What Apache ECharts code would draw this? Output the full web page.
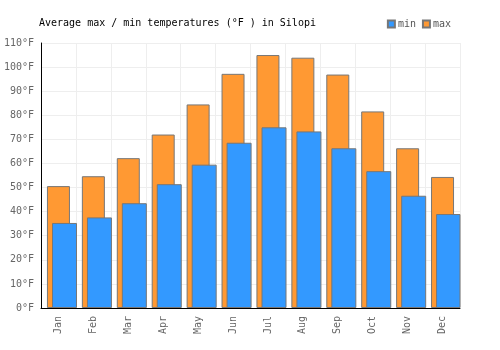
<!DOCTYPE html>
<html>
<head>
<meta charset="utf-8">
<script src="https://cdn.jsdelivr.net/npm/echarts@6/dist/echarts.min.js"></script>
<style>
  html, body { margin: 0; padding: 0; background: #fff; }
  #chart { width: 500px; height: 350px; }
</style>
</head>
<body>
<div id="chart"></div>
<script>
const months = ['Jan', 'Feb', 'Mar', 'Apr', 'May', 'Jun', 'Jul', 'Aug', 'Sep', 'Oct', 'Nov', 'Dec']
const maxTemps = [50.6, 54.7, 62.2, 72.0, 84.5, 97.2, 105.0, 103.9, 96.9, 81.6, 66.3, 54.4]
const minTemps = [35.3, 37.6, 43.5, 51.4, 59.5, 68.6, 75.0, 73.3, 66.3, 56.8, 46.6, 39.0]

const font = '"DejaVu Sans Mono", monospace'
const chart = echarts.init(document.getElementById('chart'))

chart.setOption({
  animation: false,
  textStyle: { fontFamily: font },
  title: {
    text: 'Average max / min temperatures (°F ) in Silopi',
    left: 34,
    top: 13,
    textStyle: { fontFamily: font, fontSize: 10, fontWeight: 'normal', color: '#000' }
  },
  legend: {
    data: ['min', 'max'],
    right: 44,
    top: 14,
    icon: 'rect',
    itemWidth: 7,
    itemHeight: 7,
    itemGap: 6,
    textStyle: { fontFamily: font, fontSize: 10, color: '#555', padding: [0, 0, 0, -2] }
  },
  grid: { left: 41, right: 40, top: 43, bottom: 42 },
  xAxis: {
    type: 'category',
    data: months,
    axisLine: { lineStyle: { color: '#000', width: 1 } },
    axisTick: { show: false },
    splitLine: { show: true, lineStyle: { color: '#eee' } },
    axisLabel: { rotate: 90, fontFamily: font, fontSize: 10, color: '#666', margin: 8 }
  },
  yAxis: {
    type: 'value',
    min: 0,
    max: 110,
    interval: 10,
    axisLine: { show: true, lineStyle: { color: '#000', width: 1 } },
    axisTick: { show: false },
    splitLine: { lineStyle: { color: '#eee' } },
    axisLabel: { formatter: '{value}°F', fontFamily: font, fontSize: 10, color: '#666', margin: 7 }
  },
  series: [
    {
      // empty spacer so the overlapping pair sits slightly right of centre
      name: 'spacer',
      type: 'bar',
      data: [],
      barWidth: 32,
      barGap: '-78%',
      silent: true
    },
    {
      name: 'max',
      type: 'bar',
      data: maxTemps,
      barWidth: 23,
      barGap: '-78%',
      itemStyle: { color: '#ff9933', borderColor: '#777', borderWidth: 1 }
    },
    {
      name: 'min',
      type: 'bar',
      data: minTemps,
      barWidth: 25,
      barGap: '-78%',
      itemStyle: { color: '#3399ff', borderColor: '#777', borderWidth: 1 }
    }
  ]
})
</script>
</body>
</html>
